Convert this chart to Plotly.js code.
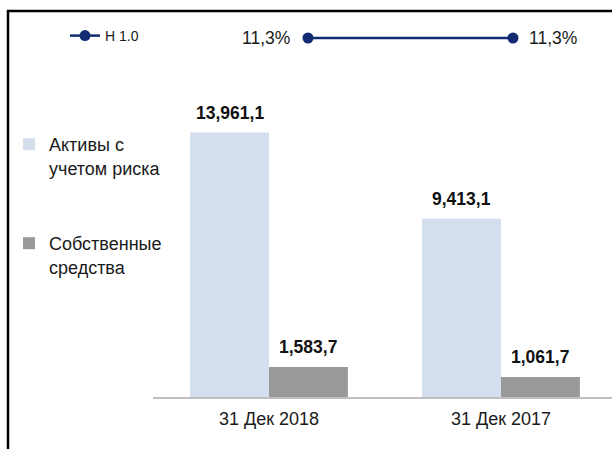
<!DOCTYPE html>
<html><head><meta charset="utf-8">
<script src="https://cdn.plot.ly/plotly-3.0.1.min.js"></script>
<style>body{margin:0;background:#fff}#chart{width:612px;height:449px}</style>
</head><body><div id="chart"></div>
<script>
const categories = ["31 Дек 2018", "31 Дек 2017"];
const riskAssets = [13961.1, 9413.1];
const ownFunds = [1583.7, 1061.7];
const n10Ratio = [11.3, 11.3];
const seriesNames = ["Активы с<br>учетом риска", "Собственные<br>средства", "Н 1.0"];

function fmtNum(v) {
  const parts = v.toFixed(1).split('.');
  return parts[0].replace(/\B(?=(\d{3})+(?!\d))/g, ',') + ',' + parts[1];
}
function fmtPct(v) { return v.toFixed(1).replace('.', ',') + '%'; }

const FONT = 'Arial, "Liberation Sans", sans-serif';
const TXT = '#1a1a1a';
const W = 612, H = 449;
const L = 153, T = 25, B = 52;
const plotH = H - T - B, plotW = W - L;
const axisY = H - B;
const pxPerUnit = 0.01894;

const traces = [
  {type: 'bar', name: seriesNames[0], x: categories, y: riskAssets,
   marker: {color: '#D4DFEE'}, legend: 'legend', hoverinfo: 'none'},
  {type: 'bar', name: seriesNames[1], x: categories, y: ownFunds,
   marker: {color: '#999999'}, legend: 'legend3', hoverinfo: 'none'},
  {type: 'scatter', mode: 'lines+markers', name: seriesNames[2], x: categories, y: n10Ratio,
   xaxis: 'x2', yaxis: 'y2', line: {color: '#112C73', width: 2.5},
   marker: {color: '#112C73', size: 11}, legend: 'legend2', hoverinfo: 'none'}
];

const annotations = [];
const off = 0.17;
categories.forEach((c, i) => {
  [[riskAssets, -off], [ownFunds, off]].forEach(([arr, d]) => {
    annotations.push({xref: 'x', yref: 'y', x: i + d, y: arr[i], text: '<b>' + fmtNum(arr[i]) + '</b>',
      showarrow: false, xanchor: 'center', yanchor: 'bottom', yshift: 8,
      font: {family: FONT, size: 17.5, color: '#111'}});
  });
  annotations.push({xref: 'x2', yref: 'y2', x: i, y: n10Ratio[i], text: fmtPct(n10Ratio[i]),
    showarrow: false, xanchor: i === 0 ? 'right' : 'left', yanchor: 'middle',
    xshift: i === 0 ? -16 : 14, yshift: 0,
    font: {family: FONT, size: 17.5, color: TXT}});
});

const pxX = p => (p - L) / plotW;
const pxY = p => (axisY - p) / plotH;

const layout = {
  width: W, height: H,
  margin: {l: L, r: 0, t: T, b: B, autoexpand: false},
  paper_bgcolor: '#fff', plot_bgcolor: '#fff',
  font: {family: FONT, color: TXT},
  barmode: 'group', bargap: 0.32, bargroupgap: 0,
  xaxis: {type: 'category', range: [-0.5, -0.5 + plotW / 232], showline: true, linecolor: '#BFBFBF',
    linewidth: 1.5, ticks: '', showgrid: false, zeroline: false, fixedrange: true,
    ticklabelstandoff: 5,
    tickfont: {family: FONT, size: 18, color: TXT}},
  yaxis: {range: [0, plotH / pxPerUnit], visible: false, fixedrange: true},
  xaxis2: {type: 'category', overlaying: 'x', range: [-0.756, 1.483], visible: false, fixedrange: true},
  yaxis2: {overlaying: 'y', range: [0, 11.3 * plotH / 359], visible: false, fixedrange: true},
  showlegend: true,
  legend: {xref: 'container', yref: 'container', x: 9 / W, y: 1 - 126 / H, xanchor: 'left', yanchor: 'top',
    valign: 'top', bgcolor: 'rgba(0,0,0,0)', font: {family: FONT, size: 18, color: TXT}},
  legend3: {xref: 'container', yref: 'container', x: 9 / W, y: 1 - 225 / H, xanchor: 'left', yanchor: 'top',
    valign: 'top', bgcolor: 'rgba(0,0,0,0)', font: {family: FONT, size: 18, color: TXT}},
  legend2: {xref: 'container', yref: 'container', x: 65 / W, y: 1 - 36 / H, xanchor: 'left', yanchor: 'middle',
    bgcolor: 'rgba(0,0,0,0)', font: {family: FONT, size: 14, color: TXT}},
  annotations: annotations,
  shapes: [
    {type: 'line', xref: 'paper', yref: 'paper', x0: pxX(7), x1: pxX(614), y0: pxY(11), y1: pxY(11),
      line: {color: '#000', width: 2.5}},
    {type: 'line', xref: 'paper', yref: 'paper', x0: pxX(8), x1: pxX(8), y0: pxY(10), y1: pxY(452),
      line: {color: '#000', width: 2.5}}
  ]
};

Plotly.newPlot('chart', traces, layout, {displayModeBar: false, staticPlot: true});
</script></body></html>
